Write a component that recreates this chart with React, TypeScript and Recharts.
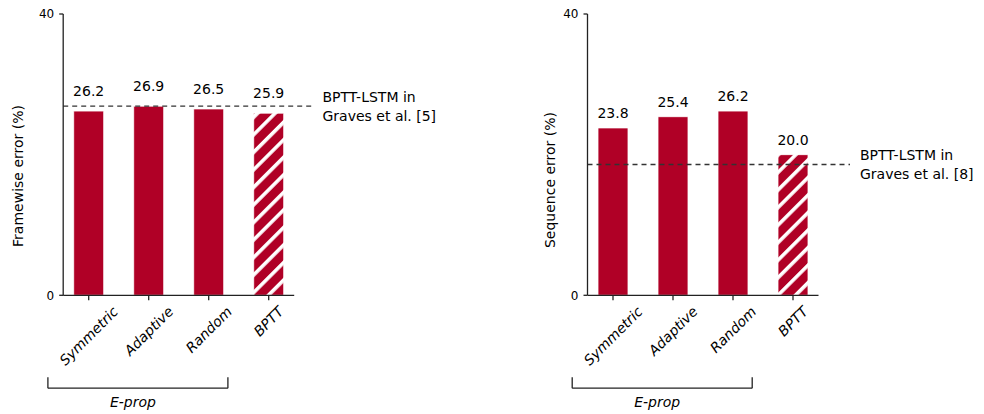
import React from "react";
import {
  BarChart,
  Bar,
  Cell,
  XAxis,
  YAxis,
  ReferenceLine,
  LabelList,
  Label,
} from "recharts";

// categories + values
const categories = ["Symmetric", "Adaptive", "Random", "BPTT"];
const framewiseError = [26.2, 26.9, 26.5, 25.9];
const sequenceError = [23.8, 25.4, 26.2, 20.0];
const hatched = [false, false, false, true];
const framewiseGraves = 26.9;
const sequenceGraves = 18.6;
const yTicks = [0, 40];
const xTicks = [0, 1, 2, 3];
const eprop = [-0.68, 2.32]; // bracket under the three e-prop variants

const FONT = "DejaVu Sans, sans-serif";
const RED = "#b00026";
const INK = "#222";

let _ctx: CanvasRenderingContext2D | null = null;
function textWidth(s: string, font: string) {
  if (!_ctx) _ctx = document.createElement("canvas").getContext("2d");
  if (!_ctx) return s.length * 8;
  _ctx.font = font;
  return _ctx.measureText(s).width;
}

// rotated (45deg) tick label, bbox centred on tick, top below tick mark
function XTick(props: any) {
  const { x, y, payload } = props;
  const name = categories[payload.value];
  const w = textWidth(name, `italic 14px "DejaVu Sans"`);
  const h = 16;
  const cy = y + 1 + ((w + h) * 0.7071) / 2;
  return (
    <text
      x={0}
      y={0}
      transform={`translate(${x},${cy}) rotate(-45)`}
      textAnchor="middle"
      dominantBaseline="central"
      fontFamily={FONT}
      fontStyle="italic"
      fontSize={14}
      fill="#000"
    >
      {name}
    </text>
  );
}

function Panel({
  values,
  baseline,
  baselineEnd,
  note,
  yLabel,
  yAxisWidth,
  rightMargin,
  labelDx,
  labelCy,
  valueOffset,
  id,
}: any) {
  const data = categories.map((c, i) => ({ x: i, name: c, value: values[i] }));
  return (
    <BarChart
      width={492}
      height={414}
      data={data}
      margin={{ top: 14, right: rightMargin, bottom: 88.7, left: 0 }}
    >
      <defs>
        <pattern
          id={id}
          patternUnits="userSpaceOnUse"
          width={12.4}
          height={12.4}
          patternTransform="rotate(45)"
        >
          <rect x={0} y={0} width={12.4} height={12.4} fill={RED} />
          <rect x={0} y={0} width={3.6} height={12.4} fill="#fff" />
        </pattern>
      </defs>
      <XAxis
        type="number"
        dataKey="x"
        domain={[-0.425, 3.425]}
        ticks={xTicks}
        allowDataOverflow
        height={30}
        tickSize={5}
        tickLine={{ stroke: INK, strokeWidth: 1.3 }}
        axisLine={{ stroke: INK, strokeWidth: 1.3 }}
        tick={XTick}
        interval={0}
      />
      <YAxis
        type="number"
        domain={[0, 40]}
        ticks={yTicks}
        allowDataOverflow
        width={yAxisWidth}
        tickSize={4}
        tickMargin={5}
        tickLine={{ stroke: INK, strokeWidth: 1.3 }}
        axisLine={{ stroke: INK, strokeWidth: 1.3 }}
        tick={{ fontFamily: FONT, fontSize: 12, fill: "#000" }}
      >
        <Label
          content={(p: any) => {
            const vb = p.viewBox;
            const cx = vb.x + vb.width - labelDx;
            return (
              <text
                x={0}
                y={0}
                transform={`translate(${cx},${labelCy}) rotate(-90)`}
                textAnchor="middle"
                dominantBaseline="central"
                fontFamily={FONT}
                fontSize={14}
                fill="#000"
              >
                {yLabel}
              </text>
            );
          }}
        />
      </YAxis>
      <Bar
        dataKey="value"
        barSize={30}
        stroke="#fff"
        strokeWidth={0.8}
        isAnimationActive={false}
      >
        {data.map((d, i) => (
          <Cell key={d.name} fill={hatched[i] ? `url(#${id})` : RED} />
        ))}
        <LabelList
          dataKey="value"
          position="top"
          offset={valueOffset}
          formatter={(v: any) => Number(v).toFixed(1)}
          style={{ fontFamily: FONT, fontSize: 14, fill: "#000" }}
        />
      </Bar>
      <ReferenceLine
        segment={[
          { x: -0.425, y: baseline },
          { x: baselineEnd, y: baseline },
        ]}
        ifOverflow="visible"
        stroke="#333"
        strokeWidth={1.3}
        strokeDasharray="5 4"
        label={(p: any) => {
          const vb = p.viewBox;
          const tx = vb.x + vb.width + 10;
          return (
            <text fontFamily={FONT} fontSize={14} fill="#000">
              <tspan x={tx} y={vb.y - 9.5} dominantBaseline="central">
                {note[0]}
              </tspan>
              <tspan x={tx} y={vb.y + 9.5} dominantBaseline="central">
                {note[1]}
              </tspan>
            </text>
          );
        }}
      />
      {/* E-prop bracket */}
      <ReferenceLine
        segment={[
          { x: eprop[0], y: -11.65 },
          { x: eprop[0], y: -13.2 },
        ]}
        ifOverflow="visible"
        stroke={INK}
        strokeWidth={1.3}
      />
      <ReferenceLine
        segment={[
          { x: eprop[1], y: -11.65 },
          { x: eprop[1], y: -13.2 },
        ]}
        ifOverflow="visible"
        stroke={INK}
        strokeWidth={1.3}
      />
      <ReferenceLine
        segment={[
          { x: eprop[0], y: -13.2 },
          { x: eprop[1], y: -13.2 },
        ]}
        ifOverflow="visible"
        stroke={INK}
        strokeWidth={1.3}
        label={(p: any) => {
          const vb = p.viewBox;
          return (
            <text
              x={vb.x + vb.width / 2 - 5}
              y={vb.y + 14}
              textAnchor="middle"
              dominantBaseline="central"
              fontFamily={FONT}
              fontStyle="italic"
              fontSize={14}
              fill="#000"
            >
              E-prop
            </text>
          );
        }}
      />
    </BarChart>
  );
}

export default function App() {
  return (
    <div
      style={{
        position: "absolute",
        left: 0,
        top: 0,
        width: 984,
        height: 414,
        background: "#fff",
        display: "flex",
      }}
    >
      <Panel
        id="hatchA"
        values={framewiseError}
        baseline={framewiseGraves}
        baselineEnd={3.73}
        note={["BPTT-LSTM in", "Graves et al. [5]"]}
        yLabel="Framewise error (%)"
        yAxisWidth={63.2}
        rightMargin={197.8}
        labelDx={45}
        labelCy={176}
        valueOffset={15}
      />
      <Panel
        id="hatchB"
        values={sequenceError}
        baseline={sequenceGraves}
        baselineEnd={3.95}
        note={["BPTT-LSTM in", "Graves et al. [8]"]}
        yLabel="Sequence error (%)"
        yAxisWidth={95.5}
        rightMargin={165.5}
        labelDx={37.5}
        labelCy={180}
        valueOffset={10}
      />
    </div>
  );
}
